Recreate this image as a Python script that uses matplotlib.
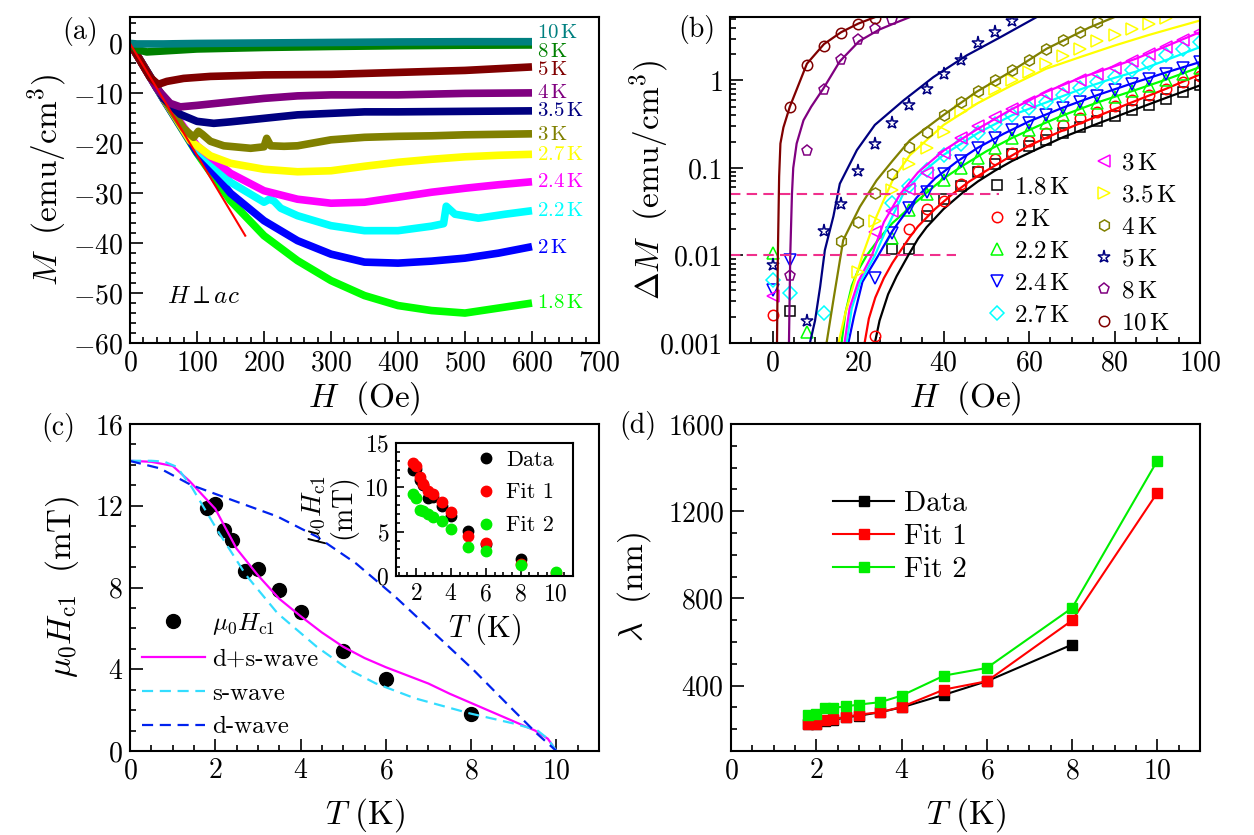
import numpy as np
import matplotlib
matplotlib.use('Agg')
import matplotlib.pyplot as plt
from matplotlib.lines import Line2D
from matplotlib.ticker import MultipleLocator, FixedLocator, FixedFormatter, LogLocator, NullFormatter

plt.rcParams['font.family'] = 'serif'
plt.rcParams['font.serif'] = ['cmr10']
plt.rcParams['mathtext.fontset'] = 'cm'
plt.rcParams['axes.formatter.use_mathtext'] = True
plt.rcParams['axes.linewidth'] = 1.5

nan = np.nan

# ---------------- panel (a): M(H) ----------------
temps_a = ['1.8', '2', '2.2', '2.4', '2.7', '3', '3.5', '4', '5', '8', '10']
colors_a = ['#00ff00', '#0000ff', '#00ffff', '#ff00ff', '#ffff00', '#808000',
            '#000080', '#800080', '#800000', '#008000', '#008080']

h_a_18 = [0, 50, 100, 150, 200, 250, 300, 350, 400, 450, 500, 550, 600]
m_a_18 = [0, -11.2, -22, -31.5, -38.5, -43.5, -47.5, -50.5, -52.5, -53.5, -54, -53, -52]
h_a_20 = [0, 50, 100, 150, 200, 250, 300, 350, 400, 450, 500, 550, 600]
m_a_20 = [0, -11.2, -21.8, -30, -35.5, -39.5, -42.2, -43.8, -44, -43.6, -43, -42, -40.7]
h_a_22 = [0, 50, 100, 150, 200, 208, 215, 225, 250, 300, 350, 400, 450, 468, 472, 485, 520, 560, 600]
m_a_22 = [0, -11, -21, -27.8, -31.8, -31.2, -31.6, -33, -34.5, -36.5, -37.5, -37.5, -36.6, -36.1,
          -32.6, -34.2, -35, -34.2, -33.5]
h_a_24 = [0, 50, 100, 150, 200, 250, 300, 350, 400, 450, 500, 550, 600]
m_a_24 = [0, -11, -20.5, -26, -29.5, -31.2, -32, -31.8, -30.8, -29.8, -29, -28.3, -27.7]
h_a_27 = [0, 50, 90, 120, 150, 200, 250, 300, 350, 400, 450, 500, 550, 600]
m_a_27 = [0, -11, -19.5, -22.5, -24, -25.2, -25.7, -25.5, -24.6, -23.8, -23.2, -22.7, -22.4, -22.2]
h_a_30 = [0, 50, 80, 95, 102, 108, 120, 140, 180, 200, 204, 210, 230, 250, 300, 350, 400, 450,
          500, 550, 600]
m_a_30 = [0, -11, -17, -18.8, -17.6, -18.2, -19.6, -20.5, -21, -20.7, -19.0, -20.5, -20.6, -20.5,
          -19.3, -18.8, -18.6, -18.5, -18.3, -18.2, -18.1]
h_a_35 = [0, 50, 75, 100, 125, 150, 200, 250, 300, 350, 400, 500, 600]
m_a_35 = [0, -11, -14.2, -15.6, -16, -15.7, -15, -14.3, -14, -13.7, -13.7, -13.6, -13.5]
h_a_40 = [0, 40, 60, 75, 100, 150, 200, 250, 300, 400, 500, 600]
m_a_40 = [0, -9, -12, -12.7, -12.4, -11.7, -11, -10.5, -10.3, -10.3, -10, -9.9]
h_a_50 = [0, 30, 42, 55, 80, 120, 200, 300, 400, 500, 600]
m_a_50 = [0, -6.8, -8.2, -7.6, -7, -6.6, -6.3, -6.2, -5.8, -5.4, -4.7]
h_a_80 = [0, 10, 25, 50, 100, 200, 300, 400, 500, 600]
m_a_80 = [0, -1.2, -1.7, -1.5, -1.1, -0.8, -0.6, -0.45, -0.35, -0.3]
h_a_100 = [0, 10, 50, 100, 200, 300, 400, 500, 600]
m_a_100 = [0, -0.1, -0.1, 0, 0.1, 0.2, 0.3, 0.35, 0.35]

h_lin = [0, 172]
m_lin = [0, -38.5]

label_m_a = [-52, -40.9, -33.5, -27.7, -22.4, -18.4, -13.5, -9.9, -5.3, -1.7, 2.0]

# ---------------- panel (b): Delta M(H) ----------------
temps_b = ['1.8', '2', '2.2', '2.4', '2.7', '3', '3.5', '4', '5', '8', '10']
colors_b = ['black', 'red', '#00ff00', 'blue', 'cyan', 'magenta', '#ffff00',
            '#808000', '#000080', '#800080', '#800000']
markers_b = ['s', 'o', '^', 'v', 'D', '<', '>', 'h', '*', 'p', 'o']
sizes_b = [6.5, 7.5, 8.5, 8.5, 7, 8.5, 8.5, 8, 9.5, 8, 7.5]

dm_h = [0, 4, 8, 12, 16, 20, 24, 28, 32, 36, 40, 44, 48, 52, 56, 60, 64, 68, 72, 76, 80, 84,
        88, 92, 96, 100]
dm_18 = [nan, 0.0023, nan, nan, nan, nan, nan, 0.012, 0.012, 0.028, 0.044, 0.062, 0.089, 0.11,
         0.143, 0.18, 0.21, 0.25, 0.29, 0.34, 0.39, 0.46, 0.53, 0.62, 0.73, 0.88]
dm_20 = [0.0021, nan, nan, nan, nan, nan, 0.0012, nan, 0.020, 0.034, 0.042, 0.065, 0.093, 0.125,
         0.15, 0.205, 0.25, 0.31, 0.37, 0.43, 0.51, 0.6, 0.69, 0.8, 0.95, 1.13]
dm_22 = [0.0106, nan, 0.00135, nan, nan, nan, nan, 0.016, 0.033, 0.05, 0.072, 0.1, 0.13, 0.17,
         0.22, 0.27, 0.33, 0.40, 0.47, 0.55, 0.64, 0.75, 0.87, 1.0, 1.17, 1.38]
dm_24 = [0.0040, 0.0089, nan, nan, nan, nan, 0.0055, 0.018, 0.035, 0.053, 0.085, 0.12, 0.17,
         0.22, 0.27, 0.33, 0.40, 0.48, 0.56, 0.66, 0.78, 0.9, 1.03, 1.18, 1.38, 1.62]
dm_27 = [0.0052, 0.0037, nan, 0.0022, nan, nan, nan, 0.04, 0.062, 0.095, 0.14, 0.19, 0.25, 0.32,
         0.40, 0.48, 0.57, 0.68, 0.82, 0.95, 1.1, 1.3, 1.6, 1.93, 2.3, 2.73]
dm_30 = [0.0034, nan, nan, nan, nan, nan, 0.0186, 0.032, 0.058, 0.087, 0.15, 0.22, 0.30, 0.38,
         0.47, 0.57, 0.70, 0.84, 1.0, 1.18, 1.4, 1.65, 2.0, 2.4, 2.9, 3.6]
dm_35 = [nan, nan, nan, nan, nan, 0.0065, 0.025, 0.056, 0.11, 0.17, 0.26, 0.45, 0.6, 0.8, 1.0,
         1.25, 1.55, 1.9, 2.3, 2.8, 3.3, 3.85, 4.43, 5.2, nan, nan]
dm_40 = [nan, nan, nan, nan, 0.0148, 0.024, 0.052, 0.086, 0.174, 0.26, 0.40, 0.57, 0.76, 1.0,
         1.32, 1.69, 2.3, 2.86, 3.55, 4.6, nan, nan, nan, nan, nan, nan]
dm_50 = [0.0078, nan, 0.0018, 0.019, 0.039, 0.092, 0.187, 0.33, 0.53, 0.80, 1.19, 1.69, 2.69,
         3.55, 4.74, nan, nan, nan, nan, nan, nan, nan, nan, nan, nan, nan]
dm_80 = [nan, 0.0058, 0.156, 0.77, 1.72, 2.86, 3.85, 4.85, nan, nan, nan, nan, nan, nan, nan,
         nan, nan, nan, nan, nan, nan, nan, nan, nan, nan, nan]
dm_100 = [nan, 0.5, 1.5, 2.5, 3.5, 4.4, 5.2, nan, nan, nan, nan, nan, nan, nan, nan, nan, nan,
          nan, nan, nan, nan, nan, nan, nan, nan, nan]

fit_h_18 = [23.9, 25, 27, 29, 31.6, 34, 36, 40, 44, 48, 52, 56, 62, 68, 76, 84, 92, 100]
fit_18 = [0.001, 0.0018, 0.0036, 0.0058, 0.0098, 0.0155, 0.021, 0.034, 0.05, 0.07, 0.093, 0.12,
          0.165, 0.225, 0.32, 0.45, 0.63, 0.877]
fit_h_20 = [21.5, 22.5, 24, 26, 28, 30, 32, 34, 38, 42, 46, 50, 55, 60, 68, 76, 84, 92, 100]
fit_20 = [0.001, 0.0019, 0.0033, 0.0055, 0.0082, 0.0115, 0.016, 0.0215, 0.034, 0.05, 0.07,
          0.093, 0.13, 0.18, 0.27, 0.39, 0.56, 0.80, 1.17]
fit_h_22 = [16.1, 17, 18.5, 20, 22, 25, 28, 32, 36, 40, 45, 50, 56, 62, 68, 76, 85, 92, 100]
fit_22 = [0.001, 0.0022, 0.0045, 0.0068, 0.010, 0.0158, 0.0234, 0.035, 0.052, 0.076, 0.11,
          0.155, 0.22, 0.30, 0.40, 0.56, 0.78, 1.02, 1.42]
fit_h_24 = [17.7, 19, 21, 24.7, 28, 30, 33.7, 38, 43, 48, 54, 60, 68, 76, 85, 92, 100]
fit_24 = [0.001, 0.002, 0.005, 0.01, 0.019, 0.026, 0.046, 0.076, 0.117, 0.17, 0.245, 0.34,
          0.49, 0.68, 0.955, 1.23, 1.62]
fit_h_27 = [17.3, 18.5, 20.5, 23.9, 27, 30.5, 35, 40, 48, 56, 64, 72, 80, 85, 92, 100]
fit_27 = [0.001, 0.0025, 0.005, 0.01, 0.022, 0.05, 0.089, 0.141, 0.25, 0.40, 0.56, 0.79, 1.07,
          1.26, 1.7, 2.4]
fit_h_30 = [16.8, 18, 20, 23.2, 26, 29.8, 34, 40, 48, 56, 64, 72, 80, 85, 92, 100]
fit_30 = [0.001, 0.0025, 0.005, 0.01, 0.024, 0.05, 0.089, 0.158, 0.28, 0.47, 0.74, 1.07, 1.45,
          1.77, 2.45, 3.56]
fit_h_35 = [15.4, 17, 19, 21, 24.3, 28.2, 32.1, 40, 48, 56, 64, 72, 80, 88, 94, 100]
fit_35 = [0.001, 0.0022, 0.0048, 0.010, 0.028, 0.075, 0.14, 0.31, 0.55, 0.88, 1.36, 1.85, 2.5,
          3.3, 4.0, 4.83]
fit_h_40 = [12.6, 14.2, 16.5, 20.4, 24.3, 28, 32.1, 39.9, 47.7, 55.5, 64.1, 68.3, 74, 80]
fit_40 = [0.001, 0.0031, 0.015, 0.036, 0.072, 0.12, 0.207, 0.40, 0.74, 1.24, 2.3, 2.9, 4.0, 5.3]
fit_h_50 = [8.7, 9.9, 11.1, 12.2, 14.2, 15.7, 19.7, 23.9, 30.6, 37.6, 45.4, 53.2, 61.8, 63]
fit_50 = [0.001, 0.0018, 0.0044, 0.0115, 0.028, 0.066, 0.16, 0.31, 0.59, 1.09, 1.93, 3.1, 5.3,
          5.7]
fit_h_80 = [3.8, 4.1, 4.5, 4.8, 5.6, 7.2, 9.0, 11.8, 15.7, 20.2, 24.9, 29, 33]
fit_80 = [0.001, 0.01, 0.05, 0.1, 0.19, 0.35, 0.5, 0.8, 1.65, 2.8, 3.8, 4.6, 5.5]
fit_h_100 = [1.0, 1.2, 1.5, 1.8, 2.5, 4.0, 8.0, 12.0, 16.0, 20.0, 24.0, 26.0]
fit_100 = [0.001, 0.01, 0.08, 0.19, 0.29, 0.5, 1.55, 2.6, 3.55, 4.45, 5.3, 5.8]

# ---------------- panel (c): Hc1(T) ----------------
t_c = [1.8, 2, 2.2, 2.4, 2.7, 3, 3.5, 4, 5, 6, 8]
hc1 = [11.9, 12.1, 10.8, 10.3, 8.8, 8.9, 7.9, 6.8, 4.9, 3.5, 1.8]

t_ds = [0, 0.5, 1.0, 1.4, 2.0, 2.5, 3.0, 3.5, 4.0, 4.5, 5.0, 5.5, 6.0, 6.5, 7.0, 7.5, 8.0, 8.5,
        9.0, 9.5, 9.8, 10.0]
h_ds = [14.2, 14.15, 13.95, 13.2, 11.85, 9.9, 8.6, 7.45, 6.6, 5.8, 5.1, 4.55, 4.1, 3.7, 3.3,
        2.8, 2.35, 1.9, 1.45, 1.0, 0.6, 0]
t_s = [0, 0.5, 0.8, 1.1, 1.45, 2.07, 2.72, 3.46, 4.38, 5.12, 5.76, 6.68, 7.97, 8.99, 9.54, 9.8,
       10]
h_s = [14.2, 14.2, 14.16, 13.9, 12.9, 10.73, 8.61, 6.74, 5.1, 4.0, 3.31, 2.58, 1.84, 1.35, 1.03,
       0.6, 0]
t_d = [0, 0.7, 1.43, 2.17, 3.46, 4.38, 5.3, 6.22, 7.14, 8.06, 8.99, 9.54, 10]
h_d = [14.19, 13.83, 13.02, 12.45, 11.47, 10.49, 9.18, 7.55, 5.76, 3.96, 2.0, 0.86, 0]

t_in = [1.8, 2, 2.2, 2.4, 2.7, 3, 3.5, 4, 5, 6, 8, 10]
in_data = [11.9, 12.1, 10.8, 10.3, 8.8, 8.9, 7.9, 6.8, 5.1, 3.6, 1.9, nan]
in_fit1 = [12.7, 12.4, 11.2, 10.4, 9.6, 9.3, 8.4, 7.2, 4.5, 3.7, 1.4, 0.3]
in_fit2 = [9.2, 8.8, 7.5, 7.3, 7.0, 6.7, 6.2, 5.3, 3.3, 2.8, 1.2, 0.4]

# ---------------- panel (d): lambda(T) ----------------
t_d_data = [1.8, 2, 2.2, 2.4, 2.7, 3, 3.5, 4, 5, 6, 8]
lam_data = [222, 225, 238, 242, 255, 262, 278, 300, 358, 420, 588]
t_d_fit = [1.8, 2, 2.2, 2.4, 2.7, 3, 3.5, 4, 5, 6, 8, 10]
lam_fit1 = [226, 226, 241, 247, 256, 267, 278, 302, 382, 420, 699, 1285]
lam_fit2 = [267, 272, 298, 298, 305, 313, 324, 354, 446, 481, 756, 1432]

W, H = 1254, 835


def rect(l, t, r, b):
    return [l / W, 1 - b / H, (r - l) / W, (b - t) / H]


def style(ax, size=20, major=9, minor=4.5):
    ax.tick_params(which='both', direction='in', top=False, right=False, width=1.2,
                   labelsize=size, pad=5)
    ax.tick_params(which='major', length=major)
    ax.tick_params(which='minor', length=minor)


fig = plt.figure(figsize=(W / 100, H / 100), dpi=100)

# ---- (a)
ax = fig.add_axes(rect(130, 17, 599, 343))
series_a = [(h_a_18, m_a_18), (h_a_20, m_a_20), (h_a_22, m_a_22), (h_a_24, m_a_24),
            (h_a_27, m_a_27), (h_a_30, m_a_30), (h_a_35, m_a_35), (h_a_40, m_a_40),
            (h_a_50, m_a_50), (h_a_80, m_a_80), (h_a_100, m_a_100)]
for (hh, mm), c, t, ly in zip(series_a, colors_a, temps_a, label_m_a):
    ax.plot(hh, mm, color=c, lw=5.5, solid_capstyle='butt')
    ax.text(608, ly, r'$%s\,\mathrm{K}$' % t, color=c, fontsize=15, ha='left', va='center')
ax.plot(h_lin, m_lin, color='red', lw=1.5)
ax.text(55, -50.7, r'$H\perp ac$', fontsize=18, ha='left', va='center')
ax.set_xlim(0, 700)
ax.set_ylim(-60, 5.3)
ax.xaxis.set_major_locator(MultipleLocator(100))
ax.xaxis.set_minor_locator(MultipleLocator(20))
ax.yaxis.set_major_locator(MultipleLocator(10))
ax.yaxis.set_minor_locator(MultipleLocator(2))
style(ax)
ax.set_xlabel(r'$H\ \ (\mathrm{Oe})$', fontsize=24, va='center')
ax.xaxis.set_label_coords(0.5, -0.169)
ax.set_ylabel(r'$M\ \ (\mathrm{emu/cm^3})$', fontsize=24, va='center')
ax.yaxis.set_label_coords(-0.177, 0.5)

# ---- (b)
ax = fig.add_axes(rect(730, 17, 1200, 343))
fits_b = [(fit_h_18, fit_18), (fit_h_20, fit_20), (fit_h_22, fit_22), (fit_h_24, fit_24),
          (fit_h_27, fit_27), (fit_h_30, fit_30), (fit_h_35, fit_35), (fit_h_40, fit_40),
          (fit_h_50, fit_50), (fit_h_80, fit_80), (fit_h_100, fit_100)]
points_b = [dm_18, dm_20, dm_22, dm_24, dm_27, dm_30, dm_35, dm_40, dm_50, dm_80, dm_100]
handles = []
for (fh, fv), pts, c, mk, ms, t in zip(fits_b, points_b, colors_b, markers_b, sizes_b, temps_b):
    ax.plot(fh, fv, color=c, lw=1.6)
    ax.plot(dm_h, pts, ls='none', marker=mk, ms=ms, mfc='none', mec=c, mew=1.1)
    handles.append(Line2D([], [], ls='none', marker=mk, ms=ms, mfc='none', mec=c,
                          mew=1.1, label=r'$%s\,\mathrm{K}$' % t))
ax.plot([-10, 53], [0.05, 0.05], color='#f0308c', lw=1.5, ls=(0, (5, 3)))
ax.plot([-10, 43], [0.01, 0.01], color='#f0308c', lw=1.5, ls=(0, (5, 3)))
ax.set_yscale('log')
ax.set_xlim(-10, 100)
ax.set_ylim(0.001, 5.3)
ax.yaxis.set_major_locator(FixedLocator([0.001, 0.01, 0.1, 1]))
ax.yaxis.set_major_formatter(FixedFormatter(['0.001', '0.01', '0.1', '1']))
ax.yaxis.set_minor_locator(LogLocator(subs=np.arange(2, 10), numticks=20))
ax.yaxis.set_minor_formatter(NullFormatter())
ax.xaxis.set_major_locator(MultipleLocator(20))
ax.xaxis.set_minor_locator(MultipleLocator(5))
style(ax)
leg1 = ax.legend(handles=handles[:5], loc='upper left', frameon=False, fontsize=18,
                 bbox_to_anchor=(988 / W, 1 - 176 / H), bbox_transform=fig.transFigure,
                 borderpad=0, borderaxespad=0, handlelength=0.7, handletextpad=0.35,
                 labelspacing=0.38)
ax.add_artist(leg1)
ax.legend(handles=handles[5:], loc='upper left', frameon=False, fontsize=18,
          bbox_to_anchor=(1095 / W, 1 - 152 / H), bbox_transform=fig.transFigure,
          borderpad=0, borderaxespad=0, handlelength=0.7, handletextpad=0.35,
          labelspacing=0.38)
ax.set_xlabel(r'$H\ \ (\mathrm{Oe})$', fontsize=24, va='center')
ax.xaxis.set_label_coords(0.5, -0.169)
ax.set_ylabel(r'$\Delta M\ \ (\mathrm{emu/cm^3})$', fontsize=24, va='center')
ax.yaxis.set_label_coords(-0.174, 0.5)

# ---- (c)
ax = fig.add_axes(rect(130, 424, 599, 751))
ax.plot(t_c, hc1, ls='none', marker='o', ms=10, color='black', label=r'$\mu_0H_{\rm c1}$')
ax.plot(t_ds, h_ds, color='#ff00ff', lw=1.6, label='d+s-wave')
ax.plot(t_s, h_s, color='#33ddff', lw=1.6, ls=(0, (5, 3)), label='s-wave')
ax.plot(t_d, h_d, color='#0022ee', lw=1.6, ls=(0, (5, 3)), label='d-wave')
ax.set_xlim(0, 11)
ax.set_ylim(0, 16)
ax.xaxis.set_major_locator(MultipleLocator(2))
ax.xaxis.set_minor_locator(MultipleLocator(0.5))
ax.yaxis.set_major_locator(MultipleLocator(4))
ax.yaxis.set_minor_locator(MultipleLocator(1))
style(ax)
ax.legend(loc='upper left', frameon=False, fontsize=18,
          bbox_to_anchor=(142 / W, 1 - 611 / H), bbox_transform=fig.transFigure,
          borderpad=0, borderaxespad=0, handlelength=2.5, handletextpad=0.3,
          labelspacing=0.45)
ax.set_xlabel(r'$T\ (\mathrm{K})$', fontsize=24, va='center')
ax.xaxis.set_label_coords(0.5, -0.196)
ax.set_ylabel(r'$\mu_0H_{\rm c1}\ \ (\mathrm{mT})$', fontsize=24, va='center')
ax.yaxis.set_label_coords(-0.145, 0.5)

# inset
axi = fig.add_axes(rect(396, 443, 573, 576))
axi.plot(t_in, in_data, ls='none', marker='o', ms=7.5, color='black', label='Data')
axi.plot(t_in, in_fit1, ls='none', marker='o', ms=7.5, color='red', label='Fit 1')
axi.plot(t_in, in_fit2, ls='none', marker='o', ms=7.5, color='#00ee00', label='Fit 2')
axi.set_xlim(0.85, 11)
axi.set_ylim(0, 15)
axi.xaxis.set_major_locator(MultipleLocator(2))
axi.xaxis.set_minor_locator(MultipleLocator(0.5))
axi.yaxis.set_major_locator(MultipleLocator(5))
axi.yaxis.set_minor_locator(MultipleLocator(1))
style(axi, size=17, major=6, minor=3)
axi.legend(loc='upper left', frameon=False, fontsize=16,
           bbox_to_anchor=(475 / W, 1 - 450 / H), bbox_transform=fig.transFigure,
           borderpad=0, borderaxespad=0, handlelength=1.0, handletextpad=0.4,
           labelspacing=0.6)
axi.set_xlabel(r'$T\ (\mathrm{K})$', fontsize=22, va='center')
axi.xaxis.set_label_coords(0.5, -0.40)
axi.set_ylabel(r'$\mu_0H_{\rm c1}$' + '\n' + r'$(\mathrm{mT})$', fontsize=20, va='center',
               linespacing=1.0)
axi.yaxis.set_label_coords(-0.37, 0.5)

# ---- (d)
ax = fig.add_axes(rect(731, 424, 1200, 751))
ax.plot(t_d_data, lam_data, color='black', marker='s', ms=7, lw=1.5, label='Data')
ax.plot(t_d_fit, lam_fit1, color='red', marker='s', ms=7, lw=1.5, label='Fit 1')
ax.plot(t_d_fit, lam_fit2, color='#00ee00', marker='s', ms=7, lw=1.5, label='Fit 2')
ax.set_xlim(0, 11)
ax.set_ylim(100, 1600)
ax.xaxis.set_major_locator(MultipleLocator(2))
ax.xaxis.set_minor_locator(MultipleLocator(0.5))
ax.yaxis.set_major_locator(FixedLocator([400, 800, 1200, 1600]))
ax.yaxis.set_minor_locator(MultipleLocator(100))
style(ax)
ax.legend(loc='upper left', frameon=False, fontsize=21,
          bbox_to_anchor=(833 / W, 1 - 491 / H), bbox_transform=fig.transFigure,
          borderpad=0, borderaxespad=0, handlelength=2.1, handletextpad=0.35,
          labelspacing=0.22)
ax.set_xlabel(r'$T\ (\mathrm{K})$', fontsize=24, va='center')
ax.xaxis.set_label_coords(0.5, -0.196)
ax.set_ylabel(r'$\lambda\ \ (\mathrm{nm})$', fontsize=24, va='center')
ax.yaxis.set_label_coords(-0.207, 0.5)

# panel letters
for txt, x, y in [('(a)', 80, 31), ('(b)', 697, 30), ('(c)', 58, 428), ('(d)', 638, 425)]:
    fig.text(x / W, 1 - y / H, txt, fontsize=20, ha='center', va='center')

fig.savefig('out.png', dpi=100)
